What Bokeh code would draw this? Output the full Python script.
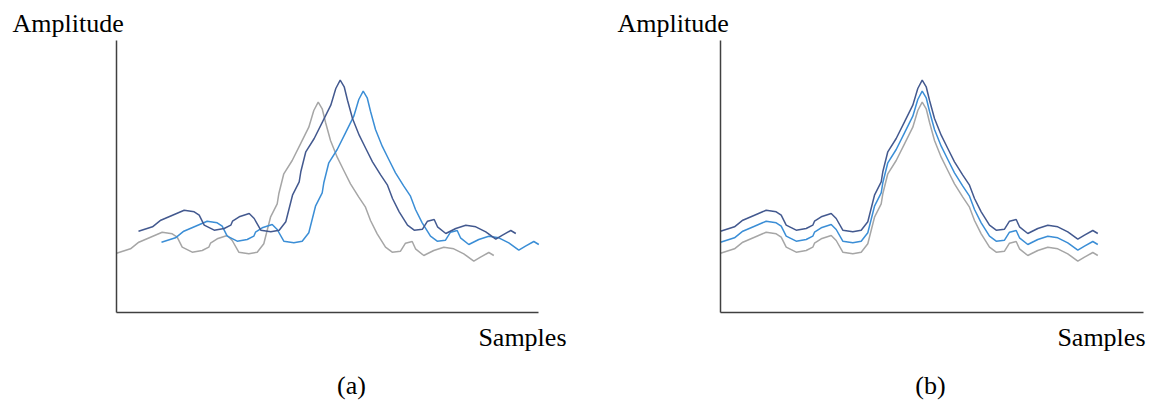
from bokeh.plotting import figure
from bokeh.layouts import row
from bokeh.models import Range1d, LinearAxis, FixedTicker
from bokeh.core.properties import value
from bokeh.embed import file_html
from bokeh.resources import INLINE

# Base waveform: sample index and amplitude
samples = [0, 14, 22.3, 34, 45.7, 55.7, 60.7, 65.7, 75.7, 85.7, 92.3, 94, 100.7,
           110.7, 115.7, 122.3, 132.3, 140.7, 147.3, 154, 160.7, 162.3, 167.3,
           175.7, 184, 192.3, 197.3, 201.7, 205.7, 209, 214, 220.7, 227.3, 234,
           242.3, 249, 254, 260.7, 269, 275.7, 284, 289, 295.7, 299, 307.3,
           317.3, 327.3, 337.3, 347.3, 357.3, 364, 372.3, 377.3]
amplitude = [59.3, 63.7, 70.3, 75.3, 80.3, 78.7, 75.3, 65.3, 60.3, 62, 65.3, 69.3,
             73.7, 77, 72, 60.3, 58.7, 60.3, 68.7, 95.3, 108.7, 118.7, 138.7, 152,
             168.7, 185.3, 202, 210.3, 203.7, 190.3, 172, 155.3, 142, 128.7, 115.3,
             105.3, 92, 78.7, 65.3, 60.3, 61.3, 69.3, 71, 63.7, 57, 62, 65.3, 63.7,
             58.7, 51.3, 55.3, 60, 57]

series_names = ["gray", "light", "dark"]
series_colors = ["#A6A6A6", "#3B8ED6", "#43598F"]
# (a) signals delayed in time; (b) aligned signals with amplitude offsets
delay_a = [0, 45, 22]
offset_a = [0, 11, 22]
delay_b = [0, 0, 0]
offset_b = [0, 11, 22]

y_label = "Amplitude"
x_label = "Samples"
panel_tags = ["(a)", "(b)"]

FONT = "'Liberation Serif', 'Times New Roman', 'DejaVu Serif', serif"
FSIZE = "26px"


def make_panel(width, left_px, x_len, delays, offsets, tag, amp_x, samp_x, tag_x):
    # data coordinates: x = pixel offset from axis origin, y = pixels above x-axis
    p = figure(width=width, height=405, output_backend="svg", toolbar_location=None,
               x_range=Range1d(-left_px, width - left_px), y_range=Range1d(-93, 312),
               x_axis_type=None, y_axis_type=None, min_border=0)
    p.outline_line_color = None
    p.grid.visible = False
    p.background_fill_color = "white"
    for side, bounds in (("below", (0, x_len)), ("left", (0, 272))):
        ax = LinearAxis(fixed_location=0, bounds=bounds, ticker=FixedTicker(ticks=[]),
                        axis_line_color="#404040", axis_line_width=1.5,
                        major_tick_line_color=None, minor_tick_line_color=None)
        p.add_layout(ax, side)
    for name, col, d, o in zip(series_names, series_colors, delays, offsets):
        xs = [s + d for s in samples]
        ys = [a + o for a in amplitude]
        p.line(xs, ys, line_color=col, line_width=1.5)
    common = dict(text_font=value(FONT), text_font_size=value(FSIZE),
                  text_baseline="alphabetic", text_color="#000000")
    p.text(x=[amp_x], y=[312 - 23], text=[y_label], text_align="left", **common)
    p.text(x=[samp_x], y=[312 - 337], text=[x_label], text_align="right", **common)
    p.text(x=[tag_x], y=[312 - 385], text=[tag], text_align="center", **common)
    return p


pa = make_panel(574, 116, 422, delay_a, offset_a, panel_tags[0], 12 - 116, 566 - 116, 351 - 116)
pb = make_panel(575, 146, 423, delay_b, offset_b, panel_tags[1], 617 - 720, 1145 - 720, 930 - 720)

layout = row(pa, pb)
open("out.html", "w").write(file_html(layout, INLINE))
